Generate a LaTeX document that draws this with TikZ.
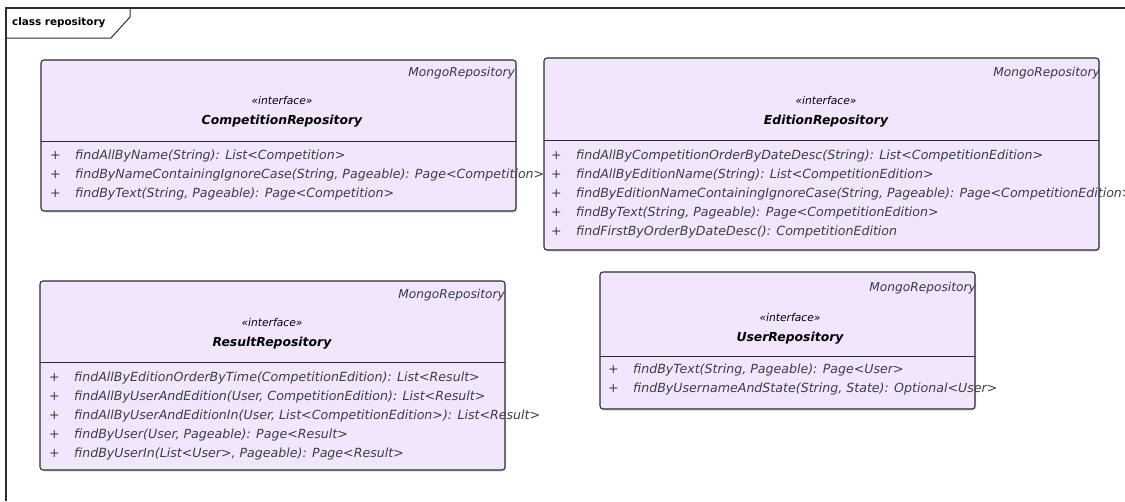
\documentclass[tikz,border=0pt]{standalone}
\usepackage{fontspec}
\setmainfont{DejaVu Sans}
\usetikzlibrary{positioning,shadows}

\definecolor{classfill}{RGB}{241,230,252}
\definecolor{classline}{RGB}{45,45,45}
\definecolor{membertext}{RGB}{62,62,66}
\definecolor{parenttext}{RGB}{55,55,70}

\tikzstyle{umlclass} = [draw=classline, fill=classfill, line width=1.1pt,
    rounded corners=3pt, inner sep=0pt,
    drop shadow={shadow xshift=1.2pt, shadow yshift=-1.6pt, opacity=0.3}]
\tikzstyle{divider} = [draw=classline, line width=1pt]
\tikzstyle{parent} = [anchor=east, inner sep=1pt, text=parenttext,
    font=\fontsize{12.2}{14}\selectfont\itshape]
\tikzstyle{stereo} = [inner sep=0pt, font=\fontsize{10.7}{12}\selectfont\itshape]
\tikzstyle{classname} = [inner sep=0pt, font=\fontsize{12.4}{14}\selectfont\bfseries\itshape]
\tikzstyle{member} = [anchor=west, inner sep=0pt, text=membertext,
    font=\fontsize{12.6}{14}\selectfont\itshape]

\begin{document}
\begin{tikzpicture}[x=1pt, y=-1pt]
    \useasboundingbox (0,0) rectangle (1125,501);

    % Frame of the package diagram
    \draw [line width=1.2pt, draw=classline] (1125,8) -- (6,8) -- (6,501);
    \draw [line width=1pt, draw=classline] (130,8) -- (130,17) -- (111,38) -- (6,38);
    \node [anchor=west, inner sep=0pt, font=\fontsize{10.4}{12}\selectfont\bfseries] (frameTitle) at (12,23) {class repository};

    % CompetitionRepository
    \node [umlclass, minimum width=475, minimum height=151] (compRepo) at (278.5,135.5) {};
    \node [parent] (compParent) at (516,73) {MongoRepository};
    \node [stereo] (compStereo) at (282,101) {«interface»};
    \node [classname, below=10pt of compStereo] (compName) {CompetitionRepository};
    \draw [divider] (41,141) -- (516,141);
    \foreach \m [count=\i] in {{findAllByName(String): List<Competition>},
        {findByNameContainingIgnoreCase(String, Pageable): Page<Competition>},
        {findByText(String, Pageable): Page<Competition>}}
        \node [member] (compM\i) at (50,{137+19*\i}) {\makebox[25pt][l]{+}\m};

    % EditionRepository
    \node [umlclass, minimum width=555, minimum height=192] (editRepo) at (821.5,154) {};
    \node [parent] (editParent) at (1101,73) {MongoRepository};
    \node [stereo] (editStereo) at (826,101) {«interface»};
    \node [classname, below=10pt of editStereo] (editName) {EditionRepository};
    \draw [divider] (544,140) -- (1099,140);
    \foreach \m [count=\i] in {{findAllByCompetitionOrderByDateDesc(String): List<CompetitionEdition>},
        {findAllByEditionName(String): List<CompetitionEdition>},
        {findByEditionNameContainingIgnoreCase(String, Pageable): Page<CompetitionEdition>},
        {findByText(String, Pageable): Page<CompetitionEdition>},
        {findFirstByOrderByDateDesc(): CompetitionEdition}}
        \node [member] (editM\i) at (551,{137+19*\i}) {\makebox[25pt][l]{+}\m};

    % ResultRepository
    \node [umlclass, minimum width=465, minimum height=189] (resRepo) at (272.5,375.5) {};
    \node [parent] (resParent) at (506,295) {MongoRepository};
    \node [stereo] (resStereo) at (272,323) {«interface»};
    \node [classname, below=10pt of resStereo] (resName) {ResultRepository};
    \draw [divider] (40,362) -- (505,362);
    \foreach \m [count=\i] in {{findAllByEditionOrderByTime(CompetitionEdition): List<Result>},
        {findAllByUserAndEdition(User, CompetitionEdition): List<Result>},
        {findAllByUserAndEditionIn(User, List<CompetitionEdition>): List<Result>},
        {findByUser(User, Pageable): Page<Result>},
        {findByUserIn(List<User>, Pageable): Page<Result>}}
        \node [member] (resM\i) at (49,{359+19*\i}) {\makebox[25pt][l]{+}\m};

    % UserRepository
    \node [umlclass, minimum width=375, minimum height=137] (userRepo) at (787.5,340.5) {};
    \node [parent] (userParent) at (977,288) {MongoRepository};
    \node [stereo] (userStereo) at (790,318) {«interface»};
    \node [classname, below=10pt of userStereo] (userName) {UserRepository};
    \draw [divider] (600,356) -- (975,356);
    \foreach \m [count=\i] in {{findByText(String, Pageable): Page<User>},
        {findByUsernameAndState(String, State): Optional<User>}}
        \node [member] (userM\i) at (608,{351+19*\i}) {\makebox[25pt][l]{+}\m};
\end{tikzpicture}
\end{document}
